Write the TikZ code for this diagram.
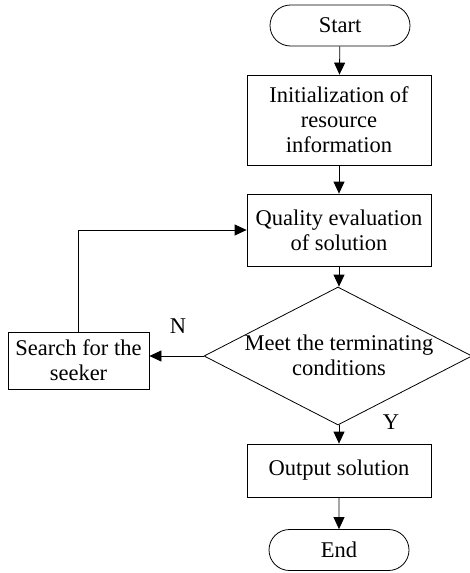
\documentclass[tikz,border=0pt]{standalone}
\usepackage{fontspec}
\setmainfont{Liberation Serif}
\usetikzlibrary{shapes.geometric,shapes.misc,arrows.meta}

\begin{document}
\begin{tikzpicture}[x=1pt,y=-1pt,>={Triangle[length=12pt,width=11pt]}]
  \tikzstyle{every node}=[font=\fontsize{22.5}{25}\selectfont,inner sep=0pt]
  \tikzstyle{term}=[rounded rectangle,draw,line width=0.8pt,minimum width=140pt,minimum height=41pt]
  \tikzstyle{proc}=[rectangle,draw,line width=0.8pt,minimum width=184pt,align=center]
  \tikzstyle{test}=[diamond,draw,line width=0.8pt,minimum width=268pt,minimum height=138pt]
  \tikzstyle{line}=[draw,line width=0.8pt,->]
  \useasboundingbox (0,0) rectangle (470,573);
  % flow
  \node[term] (start) at (340,25.5) {Start};
  \node[proc,minimum height=90pt] (init) at (339,120) {Initialization of\\resource\\information};
  \node[proc,minimum height=72pt] (eval) at (339,230) {Quality evaluation\\of solution};
  \node[test] (cond) at (338,356) {};
  \node[align=center] (condtext) at (339,355.5) {Meet the terminating\\conditions};
  \node[proc,minimum width=141pt,minimum height=57pt] (search) at (78.5,360.5) {Search for the\\seeker};
  \node[proc,minimum height=53pt] (out) at (339,470.5) {Output solution};
  \node[term] (end) at (339,550) {End};
  % branch labels
  \node (nlab) at (178,326) {N};
  \node (ylab) at (391,422) {Y};
  % connectors
  \draw[line] (start) -- (init);
  \draw[line] (init) -- (eval);
  \draw[line] (eval.south) -- (eval.south |- cond.north);
  \draw[line] (cond.west) -- (cond.west -| search.east);
  \draw[line] (search.north) |- (eval.west);
  \draw[line] (eval.south |- cond.south) -- (out.north);
  \draw[line] (out) -- (end);
\end{tikzpicture}
\end{document}
